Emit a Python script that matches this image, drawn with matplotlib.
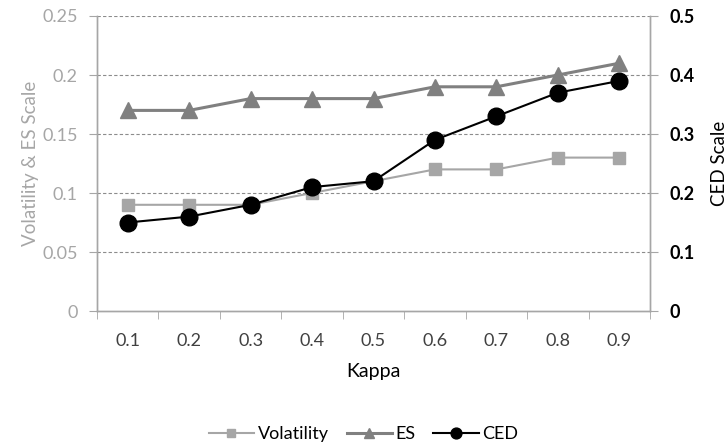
import matplotlib
matplotlib.use("Agg")
import matplotlib.pyplot as plt
import numpy as np

plt.rcParams['font.family'] = ['Lato', 'DejaVu Sans']

kappa = ["0.1", "0.2", "0.3", "0.4", "0.5", "0.6", "0.7", "0.8", "0.9"]
volatility = [0.09, 0.09, 0.09, 0.10, 0.11, 0.12, 0.12, 0.13, 0.13]
es = [0.17, 0.17, 0.18, 0.18, 0.18, 0.19, 0.19, 0.20, 0.21]
ced = [0.15, 0.16, 0.18, 0.21, 0.22, 0.29, 0.33, 0.37, 0.39]
left_ticks = [0, 0.05, 0.1, 0.15, 0.2, 0.25]
left_labels = ["0", "0.05", "0.1", "0.15", "0.2", "0.25"]
right_ticks = [0, 0.1, 0.2, 0.3, 0.4, 0.5]
right_labels = ["0", "0.1", "0.2", "0.3", "0.4", "0.5"]

fig = plt.figure(figsize=(7.27, 4.48), dpi=100)
ax = fig.add_axes([97/727, 1-311/448, (650-97)/727, (311-16)/448])
ax2 = ax.twinx()

x = np.arange(len(kappa))
axis_gray = "#A6A6A6"

for yv in left_ticks[1:]:
    ax.axhline(yv, color="#8C8C8C", linestyle=(0, (3, 2)), linewidth=0.8, zorder=0)

lv, = ax.plot(x, volatility, color="#A6A6A6", marker="s", markersize=8, linewidth=1.5, label="Volatility", zorder=3)
le, = ax.plot(x, es, color="#808080", marker="^", markersize=11, linewidth=2.2, label="ES", zorder=3)
lc, = ax2.plot(x, ced, color="black", marker="o", markersize=12, linewidth=1.5, label="CED", zorder=4)

ax.set_xlim(-0.5, len(kappa) - 0.5)
ax.set_ylim(0, 0.25)
ax2.set_ylim(0, 0.5)

ax.set_xticks(x)
ax.set_xticklabels(kappa, fontsize=13, color="#404040")
ax.set_xticks(np.arange(-0.5, len(kappa)), minor=True)
ax.tick_params(axis="x", which="major", length=0, pad=16)
ax.tick_params(axis="x", which="minor", length=6, color=axis_gray, direction="out")

ax.set_yticks(left_ticks)
ax.set_yticklabels(left_labels, fontsize=13, color="#A6A6A6")
ax.tick_params(axis="y", length=6, color=axis_gray, direction="out", pad=8)

ax2.set_yticks(right_ticks)
ax2.set_yticklabels(right_labels, fontsize=13, color="black", fontweight="bold")
ax2.tick_params(axis="y", length=6, color=axis_gray, direction="out", pad=8)

for a in (ax, ax2):
    a.spines["top"].set_visible(False)
    for s in ("left", "right", "bottom"):
        a.spines[s].set_color(axis_gray)
        a.spines[s].set_linewidth(1.0)

ax.set_xlabel("Kappa", fontsize=14, color="black", labelpad=10)
ax.set_ylabel("Volatility & ES Scale", fontsize=13.5, color="#A6A6A6", labelpad=2)
ax2.set_ylabel("CED Scale", fontsize=13.5, color="black", labelpad=12)

fig.legend(handles=[lv, le, lc], loc="center", bbox_to_anchor=(0.5, 1-434/448), ncol=3,
           frameon=False, fontsize=13, handlelength=2.5, columnspacing=1.0, handletextpad=0.2,
           markerscale=0.65)

fig.savefig("out.png", dpi=100)
